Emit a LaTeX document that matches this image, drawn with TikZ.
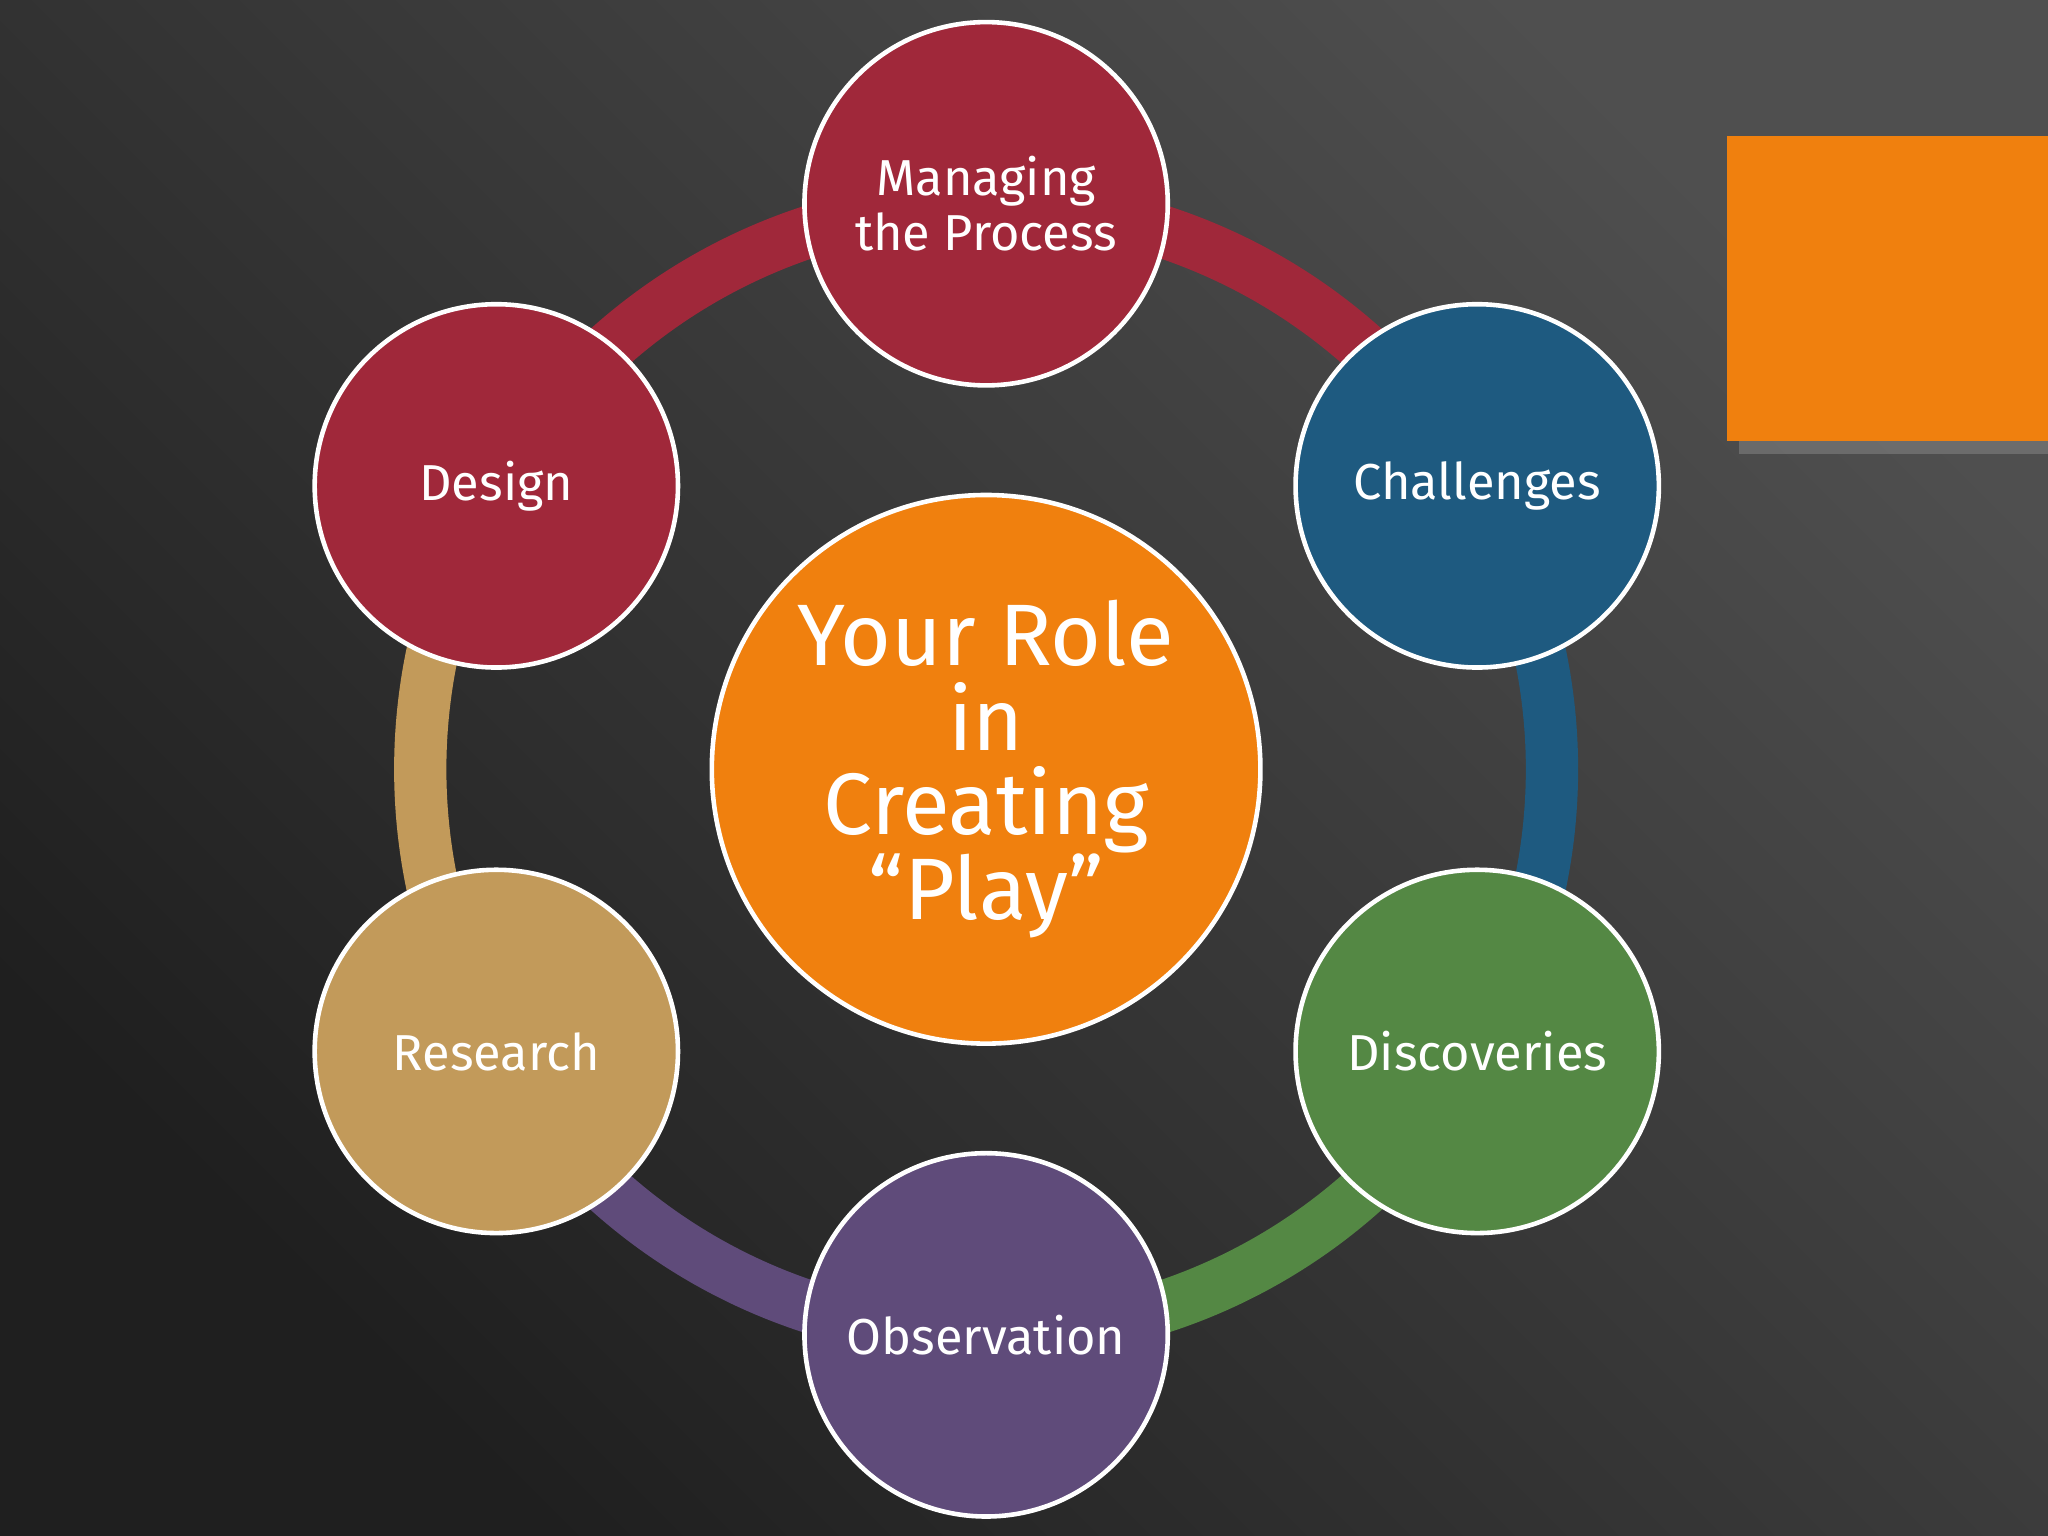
\documentclass[tikz,border=0pt]{standalone}
\usepackage{fontspec}
\setmainfont{Fira Sans}
\usetikzlibrary{shadows}
\definecolor{cred}{HTML}{A0283A}
\definecolor{cblue}{HTML}{1E5A80}
\definecolor{cgreen}{HTML}{548844}
\definecolor{cpurple}{HTML}{5F4B7A}
\definecolor{ctan}{HTML}{C29A5A}
\definecolor{corange}{HTML}{F0800E}
\tikzstyle{phase} = [circle, draw=white, line width=1pt, minimum size=2.78cm, text=white, align=center, font=\fontsize{11}{12}\selectfont]
\tikzstyle{hub} = [circle, draw=white, line width=1pt, fill=corange, minimum size=3.98cm, text=white, align=center, font=\fontsize{19}{18.4}\selectfont]
\begin{document}
\begin{tikzpicture}[x=0.01cm, y=-0.01cm]
  \shade[left color=gray!62!black, right color=black!88, shading angle=-45] (0,0) rectangle (1568,1176);
  \useasboundingbox (0,0) rectangle (1568,1176);
  \fill[corange, drop shadow={opacity=0.6}] (1322,104) rectangle (1568,338);
  \coordinate (o) at (755,589);
  % ring
  \foreach \a/\c in {90/cred, 30/cblue, -30/cgreen, -90/cpurple, -150/ctan, 150/cred}
    \draw[\c, line width=0.4cm] (o) ++(\a:4.33cm) arc[start angle=\a, delta angle=-60, radius=4.33cm];
  \node[hub] (role) at (o) {Your Role\\in\\Creating\\“Play”};
  \node[phase, fill=cred] (process) at (755,156) {Managing\\the Process};
  \node[phase, fill=cblue] (chal) at (1131,372) {Challenges};
  \node[phase, fill=cgreen] (disc) at (1131,805) {Discoveries};
  \node[phase, fill=cpurple] (obs) at (755,1022) {Observation};
  \node[phase, fill=ctan] (res) at (380,805) {Research};
  \node[phase, fill=cred] (design) at (380,372) {Design};
\end{tikzpicture}
\end{document}
